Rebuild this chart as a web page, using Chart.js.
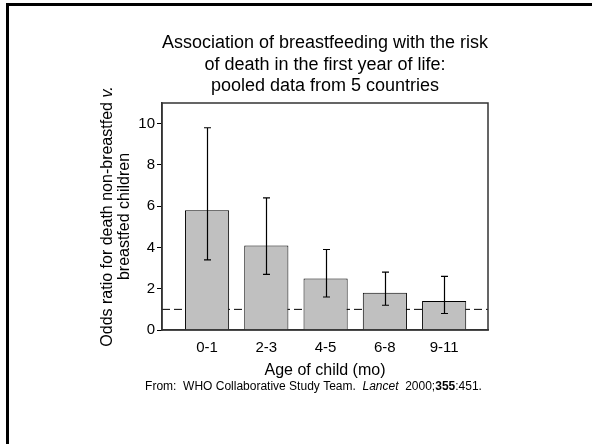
<!DOCTYPE html>
<html>
<head>
<meta charset="utf-8">
<script src="https://cdn.jsdelivr.net/npm/chart.js@4"></script>
<style>
  html, body { margin: 0; padding: 0; background: #fff; }
  #wrap { position: relative; width: 592px; height: 444px; overflow: hidden; }
  #frame { position: absolute; left: 6px; top: 3px; width: 600px; height: 460px;
           border-top: 3px solid #000; border-left: 3px solid #000; pointer-events: none; }
  canvas { position: absolute; left: 0; top: 0; }
</style>
</head>
<body>
<div id="wrap">
  <canvas id="c" width="592" height="444"></canvas>
  <div id="frame"></div>
</div>
<script>
// ---- data ----
const categories = ['0-1', '2-3', '4-5', '6-8', '9-11'];
const oddsRatio  = [5.8, 4.1, 2.5, 1.8, 1.4];
const ciLower    = [3.4, 2.7, 1.6, 1.2, 0.8];
const ciUpper    = [9.8, 6.4, 3.9, 2.8, 2.6];
const referenceLine = 1;
const yTicks = [0, 2, 4, 6, 8, 10];
const titleLines = ['Association of breastfeeding with the risk',
                    'of death in the first year of life:',
                    'pooled data from 5 countries'];
const xTitle = 'Age of child (mo)';
const yTitle1 = [['Odds ratio for death non-breastfed ', 'normal'], ['v.', 'italic']];
const yTitle2 = 'breastfed children';
const footnote = [['From:  WHO Collaborative Study Team.  ', 'normal'], ['Lancet', 'italic'],
                  ['  2000;', 'normal'], ['355', 'bold'], [':451.', 'normal']];

const FONT = 'Arial, "Liberation Sans", sans-serif';

const decorPlugin = {
  id: 'decor',
  beforeDatasetsDraw(chart) {
    const {ctx, chartArea: a, scales: {y}} = chart;
    const py = y.getPixelForValue(referenceLine);
    ctx.save();
    ctx.strokeStyle = '#000';
    ctx.lineWidth = 1;
    ctx.setLineDash([8, 4]);
    ctx.beginPath();
    ctx.moveTo(a.left, py);
    ctx.lineTo(a.right, py);
    ctx.stroke();
    ctx.restore();
  },
  afterDatasetsDraw(chart) {
    const {ctx, chartArea: a, scales: {x, y}} = chart;
    ctx.save();
    ctx.strokeStyle = '#000';
    ctx.lineWidth = 1.2;
    categories.forEach((c, i) => {
      const px = Math.round(x.getPixelForValue(i)) + 0.5;
      const hi = y.getPixelForValue(ciUpper[i]);
      const lo = y.getPixelForValue(ciLower[i]);
      ctx.beginPath();
      ctx.moveTo(px, hi); ctx.lineTo(px, lo);
      ctx.moveTo(px - 3.5, hi); ctx.lineTo(px + 3.5, hi);
      ctx.moveTo(px - 3.5, lo); ctx.lineTo(px + 3.5, lo);
      ctx.stroke();
    });
    ctx.strokeStyle = '#333';
    ctx.lineWidth = 1.5;
    ctx.strokeRect(a.left, a.top, a.right - a.left, a.bottom - a.top);
    ctx.restore();
  },
  afterDraw(chart) {
    const {ctx, chartArea: a} = chart;
    ctx.save();
    ctx.fillStyle = '#000';
    ctx.textBaseline = 'middle';
    const cy = (a.top + a.bottom) / 2;
    const drawRich = (parts, size, cx, yy) => {
      let total = 0;
      parts.forEach(([t, s]) => { ctx.font = s + ' ' + size + 'px ' + FONT; total += ctx.measureText(t).width; });
      let xx = cx - total / 2;
      ctx.textAlign = 'left';
      parts.forEach(([t, s]) => { ctx.font = s + ' ' + size + 'px ' + FONT; ctx.fillText(t, xx, yy); xx += ctx.measureText(t).width; });
    };
    ctx.save();
    ctx.translate(108, cy);
    ctx.rotate(-Math.PI / 2);
    drawRich(yTitle1, 16, 0, 0);
    ctx.restore();
    ctx.save();
    ctx.translate(125, cy);
    ctx.rotate(-Math.PI / 2);
    drawRich([[yTitle2, 'normal']], 16, 0, 0);
    ctx.restore();
    drawRich(footnote, 12, 313.5, 387);
    ctx.restore();
  }
};

new Chart(document.getElementById('c'), {
  type: 'bar',
  data: {
    datasets: [{
      data: categories.map((c, i) => ({x: i, y: oddsRatio[i]})),
      backgroundColor: '#c0c0c0',
      borderColor: '#000',
      borderWidth: 1,
      borderSkipped: 'bottom',
      categoryPercentage: 1,
      barPercentage: 0.745
    }]
  },
  options: {
    responsive: false,
    animation: false,
    devicePixelRatio: 1,
    layout: { padding: { left: 0, right: 104, top: 0, bottom: 0 } },
    plugins: {
      legend: { display: false },
      tooltip: { enabled: false },
      title: {
        display: true,
        fullSize: false,
        text: titleLines,
        color: '#000',
        font: { family: FONT, size: 18, weight: 'normal', lineHeight: 1.2 },
        padding: { top: 32.2, bottom: 6 }
      }
    },
    scales: {
      x: {
        type: 'linear',
        offset: false,
        min: -0.76,
        max: 4.74,
        afterBuildTicks: (s) => { s.ticks = categories.map((c, i) => ({value: i})); },
        afterFit: (s) => { s.height = 114; },
        ticks: {
          autoSkip: false,
          maxRotation: 0,
          padding: 9,
          color: '#000',
          font: { family: FONT, size: 15 },
          callback: (v) => categories[v]
        },
        grid: { display: true, drawOnChartArea: false, drawTicks: false, color: 'rgba(0,0,0,0)' },
        border: { display: true, color: '#333', width: 1.5 },
        title: {
          display: true,
          text: xTitle,
          color: '#000',
          font: { family: FONT, size: 16, lineHeight: 1.2 },
          padding: { top: 0, bottom: 63.4 }
        }
      },
      y: {
        min: 0,
        max: 11,
        afterBuildTicks: (s) => { s.ticks = yTicks.map(v => ({value: v})); },
        afterFit: (s) => { s.width = 162; },
        ticks: {
          padding: 2,
          color: '#000',
          font: { family: FONT, size: 15 }
        },
        grid: { drawOnChartArea: false, drawTicks: true, tickLength: 5, color: '#000' },
        border: { display: true, color: '#333', width: 1.5 }
      }
    }
  },
  plugins: [decorPlugin]
});
</script>
</body>
</html>
